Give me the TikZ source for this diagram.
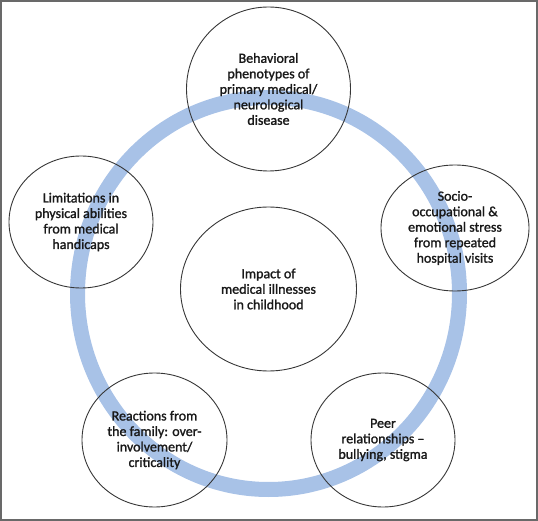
\documentclass[tikz,border=0pt]{standalone}
\usepackage{fontspec}
\setmainfont{Carlito}[RawFeature={embolden=1.4}]
\usetikzlibrary{shapes.geometric}
\definecolor{ringblue}{RGB}{168,194,231}
\definecolor{framegray}{RGB}{105,105,105}
\definecolor{edgegray}{RGB}{55,55,55}
\begin{document}
\begin{tikzpicture}[x=1pt,y=-1pt,
    bubble/.style={draw=edgegray,line width=0.9pt,ellipse,inner sep=0pt,align=center,
      font=\fontsize{14}{15.5}\selectfont,text=black!90}]
    \useasboundingbox (0,0) rectangle (538,521);
    \draw[framegray,line width=1.8pt] (1,1) rectangle (537,520);
    \draw[ringblue,line width=15pt] (268.5,293.5) ellipse [x radius=191,y radius=196];
    \node[bubble,minimum width=176pt,minimum height=164pt](I)at(268.5,289){Impact of\\medical illnesses\\in childhood};
    \node[bubble,minimum width=164pt,minimum height=164pt](T)at(268.5,89){Behavioral\\phenotypes of\\primary medical/\\neurological\\disease};
    \node[bubble,minimum width=144pt,minimum height=132pt](L)at(81,222){Limitations in\\physical abilities\\from medical\\handicaps};
    \node[bubble,minimum width=148pt,minimum height=126pt](R)at(455,228){Socio-\\occupational \&\\emotional stress\\from repeated\\hospital visits};
    \node[bubble,minimum width=145pt,minimum height=134pt](F)at(154.5,440){Reactions from\\the family: over-\\involvement/\\criticality};
    \node[bubble,minimum width=144pt,minimum height=134pt](P)at(383,440){Peer\\relationships --\\bullying, stigma};
\end{tikzpicture}
\end{document}
